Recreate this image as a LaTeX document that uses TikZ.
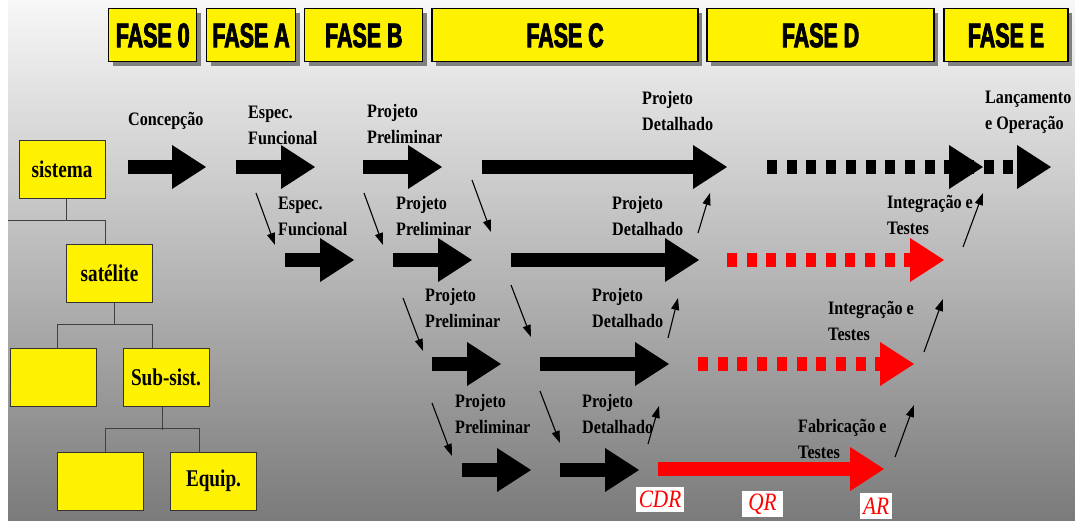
\documentclass[tikz,border=0pt]{standalone}
\usepackage{fontspec}
\setmainfont{Liberation Serif}
\newfontfamily\fasefont{Liberation Sans}[UprightFont=* Bold,FakeStretch=0.63,FakeBold=2.5]
\newfontfamily\lblfont{Liberation Serif}[FakeStretch=0.85]
\newfontfamily\boxfont{Liberation Serif}[FakeStretch=0.8]
\newfontfamily\msfont{Liberation Serif}[FakeStretch=0.85]
\usepackage{tikz}
\usetikzlibrary{arrows.meta}
\usetikzlibrary{shadows}
\tikzset{>={Triangle[length=12pt,width=8pt]}}
\colorlet{bgtop}{black!3}
\colorlet{bgmid}{black!18}
\colorlet{bgbot}{black!52}
\tikzstyle{fase}=[draw=black,line width=1.2pt,fill=yellow,inner sep=0pt,minimum height=53pt,
  font=\fasefont\fontsize{34}{34}\selectfont,
  drop shadow={shadow xshift=4pt,shadow yshift=-4pt,fill=black!50,opacity=1}]
\tikzstyle{blk}=[draw=black!80,line width=1pt,fill=yellow,inner sep=0pt,minimum width=86pt,
  minimum height=58pt,font=\boxfont\bfseries\fontsize{24}{24}\selectfont]
\tikzstyle{tree}=[black!75,line width=1pt]
\tikzstyle{lbl}=[anchor=north west,inner sep=0pt,align=left,font=\lblfont\bfseries\fontsize{19}{26}\selectfont]
\tikzstyle{ms}=[fill=white,inner sep=0pt,text=red,font=\msfont\itshape\fontsize{25}{25}\selectfont]
\tikzstyle{thinarr}=[->,line width=1.1pt]
\tikzstyle{dotline}=[line width=14pt,dash pattern=on 10pt off 9.7pt]
% arrow head and block arrow: [colour]{x}{y} / [colour]{tail}{head}{y}
\newcommand{\ahead}[3][black]{\fill[#1] (#2,#3-22) -- (#2+34,#3) -- (#2,#3+22) -- cycle;}
\newcommand{\bigarrow}[4][black]{\fill[#1] (#2,#4-7) rectangle (#3+1,#4+7); \ahead[#1]{#3}{#4}}

\begin{document}
\begin{tikzpicture}[x=1pt,y=-1pt]
  \useasboundingbox (0,0) rectangle (1075,521);
  \fill[white] (0,0) rectangle (1075,521);
  \shade[top color=bgtop,middle color=bgmid,bottom color=bgbot] (8,0) rectangle (1075,521);

  % phases
  \node[fase,minimum width=88pt] (f0) at (152.7,35.4) {FASE 0};
  \node[fase,minimum width=89pt] (fA) at (251,35.4) {FASE A};
  \node[fase,minimum width=118pt] (fB) at (363.8,35.4) {FASE B};
  \node[fase,minimum width=266pt] (fC) at (565,35.4) {FASE C};
  \node[fase,minimum width=227pt] (fD) at (820.5,35.4) {FASE D};
  \node[fase,minimum width=124pt] (fE) at (1006,35.4) {FASE E};

  % product tree
  \node[blk] (sis) at (62,169.5) {sistema};
  \node[blk] (sat) at (109.5,273.5) {satélite};
  \node[blk] (bx1) at (53,377) {};
  \node[blk] (sub) at (166,377) {Sub-sist.};
  \node[blk] (bx2) at (100,481) {};
  \node[blk] (eqp) at (213.5,481) {Equip.};
  \coordinate (side) at (8,221);
  \draw[tree] ([xshift=4pt]sis.south) -- ([xshift=4pt]sis.south |- side);
  \draw[tree] (side) -| ([xshift=-4.5pt]sat.north);
  \draw[tree] ([xshift=4.5pt]sat.south) -- ++(0,22);
  \draw[tree] ([xshift=4pt]bx1.north) -- ++(0,-23) -| ([xshift=-14pt]sub.north);
  \draw[tree] ([xshift=-4pt]sub.south) -- ++(0,23);
  \draw[tree] ([xshift=5pt]bx2.north) -- ++(0,-23) -| ([xshift=-14.5pt]eqp.north);

  % labels
  \node[lbl] (lconc) at (128,112) {Concepção};
  \node[lbl] (lesp1) at (248,106) {Espec.\\Funcional};
  \node[lbl] (lpp1) at (367,104) {Projeto\\Preliminar};
  \node[lbl] (lpd1) at (642,91) {Projeto\\Detalhado};
  \node[lbl] (llanc) at (985,91) {Lançamento\\e Operação};
  \node[lbl] (lesp2) at (278,197) {Espec.\\Funcional};
  \node[lbl] (lpp2) at (396,196) {Projeto\\Preliminar};
  \node[lbl] (lpd2) at (612,196) {Projeto\\Detalhado};
  \node[lbl] (lit2) at (887,195) {Integração e\\Testes};
  \node[lbl] (lpp3) at (425,288) {Projeto\\Preliminar};
  \node[lbl] (lpd3) at (592,288) {Projeto\\Detalhado};
  \node[lbl] (lit3) at (828,301) {Integração e\\Testes};
  \node[lbl] (lpp4) at (455,394) {Projeto\\Preliminar};
  \node[lbl] (lpd4) at (582,394) {Projeto\\Detalhado};
  \node[lbl] (lfab) at (798,419) {Fabricação e\\Testes};

  % row 1
  \bigarrow{128}{172}{167}
  \bigarrow{236}{281}{167}
  \bigarrow{363}{408}{167}
  \bigarrow{482}{693}{167}
  \draw[dotline] (767,167) -- (1017,167);
  \ahead{949}{167}
  \ahead{1017}{167}
  % row 2
  \bigarrow{285}{320}{260}
  \bigarrow{393}{438}{260}
  \bigarrow{511}{665}{260}
  \draw[dotline,red] (727,260) -- (910,260);
  \ahead[red]{910}{260}
  % row 3
  \bigarrow{432}{467}{364}
  \bigarrow{540}{635}{364}
  \draw[dotline,red] (698,364) -- (880,364);
  \ahead[red]{880}{364}
  % row 4
  \bigarrow{462}{497}{470}
  \bigarrow{560}{605}{470}
  \bigarrow[red]{658}{850}{469}

  % down and up links
  \foreach \n/\xa/\ya/\xb/\yb in {1/256/193/275/245, 2/364/193/383/245, 3/472/180/491/232,
      4/403/298/423/351, 5/511/285/531/337, 6/432/403/452/456, 7/540/391/560/443,
      8/698/233/710/193, 9/668/338/678/298, 10/648/444/659/406,
      11/963/247/983/193, 12/924/352/943/299, 13/895/457/914/405}{
    \coordinate (ts\n) at (\xa,\ya);
    \coordinate (te\n) at (\xb,\yb);
    \draw[thinarr] (ts\n) -- (te\n);
  }

  % reviews
  \node[ms,minimum width=48pt,minimum height=25pt] (cdr) at (660,499.5) {CDR};
  \node[ms,minimum width=41pt,minimum height=26pt] (qr) at (762.5,504) {QR};
  \node[ms,minimum width=32pt,minimum height=26pt] (ar) at (876,506) {AR};
\end{tikzpicture}
\end{document}
